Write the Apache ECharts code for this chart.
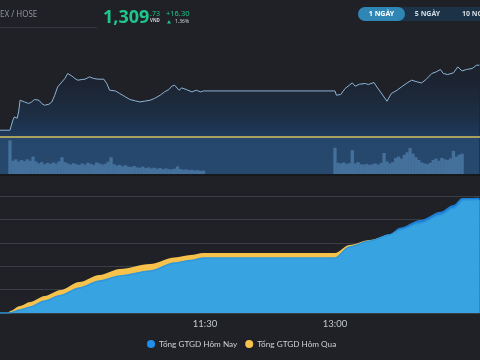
<!DOCTYPE html>
<html><head><meta charset="utf-8">
<script src="https://cdn.jsdelivr.net/npm/echarts@6/dist/echarts.min.js"></script>
<style>html,body{margin:0;padding:0;background:#1f2126;}#c{width:480px;height:360px;}</style>
</head><body><div id="c"></div>
<script>
// ---------- DATA ----------
const priceTimes = ["09:08","09:15","09:16","09:17","09:18","09:19","09:20","09:21","09:22","09:23","09:25","09:28","09:30","09:32","09:35","09:37","09:39","09:42","09:44","09:46","09:48","09:51","09:53","09:55","09:58","10:00","10:02","10:05","10:07","10:10","10:13","10:16","10:20","10:22","10:24","10:28","10:31","10:35","10:38","10:42","10:45","10:48","10:52","10:55","10:59","11:02","11:05","11:07","11:09","11:12","11:14","11:17","11:21","11:24","11:27","11:29","11:30","13:00","13:01","13:04","13:07","13:12","13:14","13:17","13:21","13:23","13:27","13:29","13:32","13:36","13:39","13:43","13:46","13:50","13:53","13:57","14:00","14:03","14:07","14:10","14:13","14:15","14:18","14:22","14:25","14:28","14:31","14:35","14:38","14:40"];
const priceValues = [1294.95,1294.95,1296.09,1297.23,1297.98,1298.36,1297.68,1299.11,1301.77,1301.93,1301.38,1301.02,1301.38,1301.93,1301.77,1301.02,1300.63,1300.86,1301.38,1302.91,1304.79,1305.93,1306.70,1307.84,1307.23,1306.70,1306.32,1306.48,1306.55,1307.07,1306.70,1306.55,1306.55,1305.57,1304.04,1303.88,1303.29,1302.52,1301.93,1301.61,1301.38,1301.54,1301.77,1302.16,1302.91,1303.66,1304.20,1304.95,1305.18,1304.04,1304.57,1304.20,1303.66,1304.04,1303.66,1303.88,1303.88,1303.88,1302.91,1303.07,1304.43,1305.70,1304.95,1305.41,1305.57,1305.34,1305.79,1304.79,1303.43,1301.54,1303.29,1304.04,1304.79,1305.70,1306.32,1305.93,1305.70,1306.48,1307.84,1308.20,1308.75,1307.84,1307.61,1307.98,1309.34,1308.43,1308.75,1308.98,1309.73,1309.73];
const refPrice = 1293.43;

const volTimes = ["09:15","09:17","09:19","09:21","09:23","09:25","09:27","09:29","09:31","09:33","09:35","09:37","09:39","09:41","09:43","09:45","09:47","09:49","09:51","09:53","09:55","09:57","09:59","10:01","10:03","10:05","10:07","10:09","10:11","10:13","10:15","10:17","10:19","10:21","10:23","10:25","10:27","10:29","10:31","10:33","10:35","10:37","10:39","10:41","10:43","10:45","10:47","10:49","10:51","10:53","10:55","10:57","10:59","11:01","11:03","11:05","11:07","11:09","11:11","11:13","11:15","11:17","11:19","11:21","11:23","11:25","11:27","11:29",
"13:00","13:02","13:04","13:06","13:08","13:10","13:12","13:14","13:16","13:18","13:20","13:22","13:24","13:26","13:28","13:30","13:32","13:34","13:36","13:38","13:40","13:42","13:44","13:46","13:48","13:50","13:52","13:54","13:56","13:58","14:00","14:02","14:04","14:06","14:08","14:10","14:12","14:14","14:16","14:18","14:20","14:22","14:24","14:26","14:28"];
const volValues = [96,38,42,36,40,37,42,38,50,36,30,34,28,32,29,33,30,36,48,34,30,27,31,28,26,30,27,32,29,26,33,30,27,29,35,48,28,24,26,22,25,21,20,23,19,18,21,17,19,16,18,15,17,14,16,14,13,15,22,14,12,13,11,12,10,11,9,10,
75,32,30,33,29,31,68,30,34,28,27,29,26,28,30,27,32,60,36,30,34,46,50,44,55,62,74,58,48,40,33,30,28,32,40,44,38,46,42,40,45,66,50,55,58];

const todayTimes = ["09:08","09:14","09:15","09:22","09:29","09:39","09:50","10:03","10:17","10:31","10:52","11:09","11:20","11:29","11:30","13:00","13:10","13:24","13:38","13:45","13:59","14:13","14:22","14:28","14:40"];
const todayValues = [0,0,0.06,0.64,1.28,2.56,3.74,5.34,6.84,7.91,8.97,10.68,11.22,11.75,11.75,11.75,14.10,15.38,16.88,18.23,19.87,21.65,23.08,24.57,24.64];
const yesterdayTimes = ["09:08","09:14","09:15","09:22","09:29","09:39","09:50","10:03","10:17","10:31","10:52","11:09","11:20","11:29","11:30","13:00","13:10","13:24","13:38","13:45","13:59","14:13","14:22","14:29","14:40"];
const yesterdayValues = [0,0,0.43,1.50,2.35,3.63,4.91,6.62,8.12,9.40,10.47,11.86,12.39,12.82,12.82,12.82,14.53,15.60,16.67,17.74,19.17,20.94,22.37,24.15,24.15];
// light-blue band where both days overlap
const overlapTimes = ["09:08","09:14","09:15","09:22","09:29","09:39","09:50","10:03","10:17","10:31","10:52","11:09","11:20","11:29","11:30","13:00","13:10","13:24","13:38","13:45","13:59","14:13","14:22","14:29","14:40"];
const overlapValues = [0,0,0.06,0.64,1.28,2.56,3.74,5.34,6.84,7.91,8.97,10.68,11.22,11.75,11.75,11.75,14.10,15.38,16.67,17.74,19.17,20.94,22.37,24.15,24.15];

const xTickLabels = ["11:30","13:00"];
const legendNames = ["Tổng GTGD Hôm Nay","Tổng GTGD Hôm Qua"];

// ---------- BUILD ----------
const toMin = s => { const p = s.split(':').map(Number); return (p[0]-9)*60 + p[1]; };
const pairs = (t, v) => t.map((s,i)=>[toMin(s), v[i]]);
const tickMins = xTickLabels.map(toMin);
const X_MIN = 8.1, X_MAX = 340.4;
const FONT = 'Noto Sans';
const NARROW = 'Lato';

const chart = echarts.init(document.getElementById('c'), null, {renderer:'canvas'});
const hiddenX = (gi)=>({type:'value', gridIndex:gi, min:X_MIN, max:X_MAX, show:false});

const option = {
  animation:false,
  backgroundColor:'#1f2126',
  textStyle:{fontFamily:FONT},
  grid:[
    {left:0,right:0,top:42,bottom:186},
    {left:0,right:0,top:139,bottom:186},
    {left:0,right:0,top:196,bottom:47}
  ],
  xAxis:[hiddenX(0), hiddenX(1),
    {type:'value', gridIndex:2, min:X_MIN, max:X_MAX,
     axisLine:{show:false}, axisTick:{show:false}, splitLine:{show:false},
     axisLabel:{customValues:tickMins, color:'#c4c8cd', fontSize:9.5, fontFamily:NARROW, margin:6,
       formatter:v=>{const i=tickMins.indexOf(v);return i>=0?xTickLabels[i]:'';}}}
  ],
  yAxis:[
    {type:'value', gridIndex:0, min:1285, max:1315, show:false},
    {type:'value', gridIndex:1, min:0, max:100, show:false},
    {type:'value', gridIndex:2, min:0, max:25, interval:5, axisLabel:{show:false}, axisLine:{show:false}, axisTick:{show:false},
     splitLine:{lineStyle:{color:'#3a3d44', width:1}}}
  ],
  legend:{
    data:legendNames, top:335, left:147, icon:'circle', itemWidth:8, itemHeight:8, itemGap:8, padding:[5,5,5,0],
    textStyle:{color:'#cdd1d6', fontSize:8.2, fontFamily:NARROW, padding:[0,0,0,-1]}
  },
  graphic:[
    {type:'rect', shape:{x:0,y:174,width:480,height:2}, style:{fill:'#16181c'}, z:100},
    {type:'text', x:0, y:15, style:{text:'EX / HOSE', font:'8px "Noto Sans"', fill:'#8d929a', verticalAlign:'middle'}},
    {type:'rect', shape:{x:0,y:27,width:97,height:1}, style:{fill:'#34373d'}},
    {type:'text', x:103, y:18, style:{text:'1,309', font:'bold 18px "Noto Sans"', fill:'#1fc58a', verticalAlign:'middle'}},
    {type:'text', x:150, y:13.5, style:{text:'.73', font:'7px "Noto Sans"', fill:'#1fc58a', verticalAlign:'middle'}},
    {type:'text', x:150, y:21, style:{text:'VND', font:'bold 4.5px "Noto Sans"', fill:'#c9cdd2', verticalAlign:'middle'}},
    {type:'text', x:166, y:14, style:{text:'+16.30', font:'7.5px "Noto Sans"', fill:'#1fc58a', verticalAlign:'middle'}},
    {type:'polygon', shape:{points:[[167,23.5],[171,23.5],[169,20]]}, style:{fill:'#1fc58a'}},
    {type:'text', x:175, y:21.5, style:{text:'1.36%', font:'5px "Noto Sans"', fill:'#cfd3d8', verticalAlign:'middle'}},
    {type:'rect', shape:{x:358,y:7,width:140,height:14,r:7}, style:{fill:'#1c3347'}},
    {type:'rect', shape:{x:358,y:7,width:47,height:14,r:7}, style:{fill:'#2f86b4'}},
    {type:'text', x:381.5, y:14, style:{text:'1 NGÀY', font:'bold 7px "Noto Sans"', fill:'#ffffff', align:'center', verticalAlign:'middle'}},
    {type:'text', x:427.5, y:14, style:{text:'5 NGÀY', font:'bold 7px "Noto Sans"', fill:'#d3dbe3', align:'center', verticalAlign:'middle'}},
    {type:'text', x:462, y:14, style:{text:'10 NGÀY', font:'bold 7px "Noto Sans"', fill:'#d3dbe3', verticalAlign:'middle'}}
  ],
  series:[
    {type:'line', name:'price', xAxisIndex:0, yAxisIndex:0, data:pairs(priceTimes, priceValues),
     symbol:'none', lineStyle:{color:'#8db4d9', width:1}, z:3,
     areaStyle:{origin:'start', color:new echarts.graphic.LinearGradient(0,42,0,174,[
        {offset:0,color:'#1d2029'},{offset:0.3,color:'#1b2536'},{offset:0.55,color:'#1c3350'},
        {offset:0.718,color:'#1f4574'},{offset:0.722,color:'#29578a'},{offset:1,color:'#2a5a8d'}], true)},
     markLine:{silent:true, symbol:'none', label:{show:false}, z:10,
       lineStyle:{color:'#d9c25c', width:1.5, type:'solid', opacity:1},
       emphasis:{disabled:true},
       data:[{yAxis:refPrice}]}
    },
    {type:'bar', name:'vol', xAxisIndex:1, yAxisIndex:1, data:pairs(volTimes, volValues),
     barWidth:3.3, itemStyle:{color:'#44709c'}, z:4},
    {type:'line', name:legendNames[1], xAxisIndex:2, yAxisIndex:2, data:pairs(yesterdayTimes, yesterdayValues),
     symbol:'none', smooth:0.3, smoothMonotone:'x', itemStyle:{color:'#f6c24c'}, lineStyle:{width:0},
     areaStyle:{color:'#f6c24c', opacity:1}, z:2},
    {type:'line', name:legendNames[0], xAxisIndex:2, yAxisIndex:2, data:pairs(todayTimes, todayValues),
     symbol:'none', smooth:0.3, smoothMonotone:'x', itemStyle:{color:'#1f8fee'}, lineStyle:{width:0},
     areaStyle:{color:'#1b7fd7', opacity:1}, z:3},
    {type:'line', name:'overlap', xAxisIndex:2, yAxisIndex:2, data:pairs(overlapTimes, overlapValues),
     symbol:'none', smooth:0.3, smoothMonotone:'x', itemStyle:{color:'#37a3e0'}, lineStyle:{width:1.5, color:'#2f98dc'},
     areaStyle:{color:'#37a3e0', opacity:1}, z:4}
  ]
};
chart.setOption(option);
</script></body></html>
